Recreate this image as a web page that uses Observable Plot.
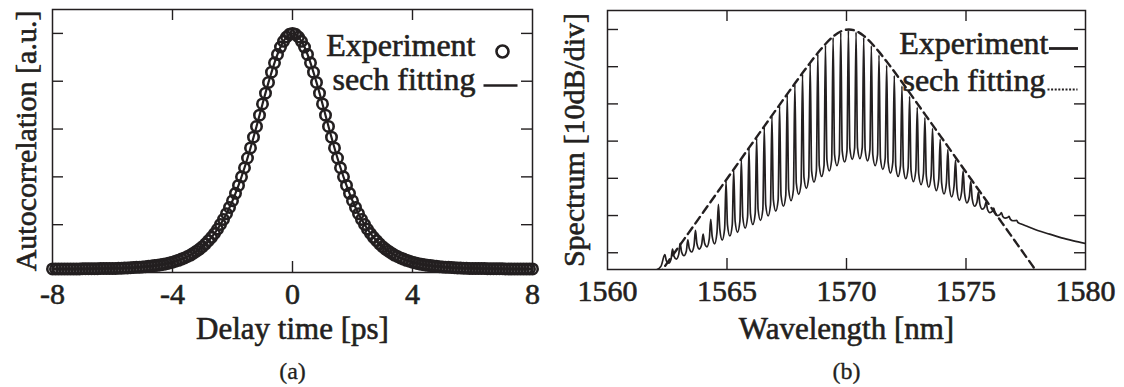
<!DOCTYPE html>
<html>
<head>
<meta charset="utf-8">
<script src="https://cdn.jsdelivr.net/npm/d3@7"></script>
<script src="https://cdn.jsdelivr.net/npm/@observablehq/plot@0.6"></script>
<style>
  html, body { margin: 0; padding: 0; background: #fff; }
  #wrap { position: relative; width: 1124px; height: 387px; overflow: hidden; background: #fff; }
  #wrap svg { position: absolute; top: 0; }
</style>
</head>
<body>
<div id="wrap"></div>
<script>
// ---------- Panel (a): autocorrelation ----------
const acDelay = [-8.0,-7.9,-7.8,-7.7,-7.6,-7.5,-7.4,-7.3,-7.2,-7.1,-7.0,-6.9,-6.8,-6.7,-6.6,-6.5,-6.4,-6.3,-6.2,-6.1,
  -6.0,-5.9,-5.8,-5.7,-5.6,-5.5,-5.4,-5.3,-5.2,-5.1,-5.0,-4.9,-4.8,-4.7,-4.6,-4.5,-4.4,-4.3,-4.2,-4.1,
  -4.0,-3.9,-3.8,-3.7,-3.6,-3.5,-3.4,-3.3,-3.2,-3.1,-3.0,-2.9,-2.8,-2.7,-2.6,-2.5,-2.4,-2.3,-2.2,-2.1,
  -2.0,-1.9,-1.8,-1.7,-1.6,-1.5,-1.4,-1.3,-1.2,-1.1,-1.0,-0.9,-0.8,-0.7,-0.6,-0.5,-0.4,-0.3,-0.2,-0.1,
  0.0,
  0.1,0.2,0.3,0.4,0.5,0.6,0.7,0.8,0.9,1.0,1.1,1.2,1.3,1.4,1.5,1.6,1.7,1.8,1.9,2.0,
  2.1,2.2,2.3,2.4,2.5,2.6,2.7,2.8,2.9,3.0,3.1,3.2,3.3,3.4,3.5,3.6,3.7,3.8,3.9,4.0,
  4.1,4.2,4.3,4.4,4.5,4.6,4.7,4.8,4.9,5.0,5.1,5.2,5.3,5.4,5.5,5.6,5.7,5.8,5.9,6.0,
  6.1,6.2,6.3,6.4,6.5,6.6,6.7,6.8,6.9,7.0,7.1,7.2,7.3,7.4,7.5,7.6,7.7,7.8,7.9,8.0];
const acValue = [0.015,0.015,0.015,0.015,0.015,0.015,0.015,0.015,0.015,0.015,0.016,0.016,0.016,0.016,0.016,0.016,0.017,0.017,0.017,0.017,
  0.017,0.017,0.018,0.018,0.019,0.019,0.020,0.021,0.022,0.022,0.023,0.024,0.026,0.027,0.029,0.030,0.032,0.034,0.037,0.040,
  0.043,0.047,0.051,0.056,0.061,0.067,0.073,0.081,0.089,0.098,0.108,0.120,0.133,0.147,0.163,0.181,0.201,0.222,0.246,0.272,
  0.300,0.331,0.364,0.400,0.438,0.479,0.521,0.566,0.611,0.658,0.705,0.750,0.795,0.838,0.877,0.912,0.943,0.967,0.985,0.996,
  1.000,
  0.996,0.985,0.967,0.943,0.912,0.877,0.838,0.795,0.750,0.705,0.658,0.611,0.566,0.521,0.479,0.438,0.400,0.364,0.331,0.300,
  0.272,0.246,0.222,0.201,0.181,0.163,0.147,0.133,0.120,0.108,0.098,0.089,0.081,0.073,0.067,0.061,0.056,0.051,0.047,0.043,
  0.040,0.037,0.034,0.032,0.030,0.029,0.027,0.026,0.024,0.023,0.022,0.022,0.021,0.020,0.019,0.019,0.018,0.018,0.017,0.017,
  0.017,0.017,0.017,0.017,0.016,0.016,0.016,0.016,0.016,0.016,0.015,0.015,0.015,0.015,0.015,0.015,0.015,0.015,0.015,0.015];
const acFitDelay = [-8,-7,-6,-5,-4.4,-4,-3.6,-3.2,-3.0,-2.8,-2.6,-2.4,-2.2,-2.0,-1.8,-1.6,-1.4,-1.2,-1.0,-0.8,-0.6,-0.4,-0.2,0,
  0.2,0.4,0.6,0.8,1.0,1.2,1.4,1.6,1.8,2.0,2.2,2.4,2.6,2.8,3.0,3.2,3.6,4,4.4,5,6,7,8];
const acFitValue = [0.015,0.016,0.017,0.023,0.032,0.043,0.061,0.089,0.108,0.133,0.163,0.201,0.246,0.300,0.364,0.438,0.521,0.611,0.705,0.795,0.877,0.943,0.985,1.000,
  0.985,0.943,0.877,0.795,0.705,0.611,0.521,0.438,0.364,0.300,0.246,0.201,0.163,0.133,0.108,0.089,0.061,0.043,0.032,0.023,0.017,0.016,0.015];
const acXLabels = [-8, -4, 0, 4, 8];
const acXInnerTicks = [-4, 0, 4];
const acYTicks = [0.2, 0.4, 0.6, 0.8, 1.0];

// ---------- Panel (b): spectrum ----------
const specStartNm = [1562.05, 1562.24];
const specStartDb = [-64.6, -63.6];
const specPeakNm = [1562.40,1562.72,1563.04,1563.36,1563.68,1564.00,1564.32,1564.64,1564.96,1565.28,1565.60,1565.92,1566.24,1566.56,1566.88,1567.20,
  1567.52,1567.84,1568.16,1568.48,1568.80,1569.12,1569.44,1569.76,1570.08,1570.40,1570.72,1571.04,1571.36,1571.68,1572.00,1572.32,
  1572.64,1572.96,1573.28,1573.60,1573.92,1574.24,1574.56,1574.88,1575.20,1575.52,1575.84,1576.16,1576.48,1576.80,1577.12];
const specPeakDb = [-60.5,-59.0,-57.5,-56.5,-54.0,-55.0,-51.0,-47.0,-40.8,-37.8,-35.0,-32.0,-29.2,-26.3,-23.3,-20.5,
  -17.6,-14.8,-12.0,-9.2,-6.6,-4.2,-2.2,-0.8,-0.3,-0.7,-2.2,-4.4,-6.9,-9.6,-12.4,-15.2,
  -18.0,-20.9,-23.7,-26.6,-29.5,-32.3,-35.2,-38.0,-40.9,-43.7,-46.4,-48.0,-49.2,-50.2,-51.3];
const specValleyNm = [1562.56,1562.88,1563.20,1563.52,1563.84,1564.16,1564.48,1564.80,1565.12,1565.44,1565.76,1566.08,1566.40,1566.72,1567.04,1567.36,
  1567.68,1568.00,1568.32,1568.64,1568.96,1569.28,1569.60,1569.92,1570.24,1570.56,1570.88,1571.20,1571.52,1571.84,1572.16,1572.48,
  1572.80,1573.12,1573.44,1573.76,1574.08,1574.40,1574.72,1575.04,1575.36,1575.68,1576.00,1576.32,1576.64,1576.96,1577.28];
const specValleyDb = [-62.8,-61.7,-60.8,-59.8,-59.0,-58.4,-57.6,-56.6,-55.5,-54.5,-53.4,-52.4,-51.3,-50.1,-48.8,-47.5,
  -46.0,-44.3,-42.7,-41.0,-39.5,-38.0,-36.6,-35.6,-34.9,-34.7,-35.3,-36.6,-37.6,-38.6,-39.5,-40.1,
  -40.9,-41.7,-42.4,-43.3,-44.2,-45.0,-45.9,-46.6,-47.5,-48.3,-49.2,-50.0,-50.7,-51.4,-52.2];
const specTailNm = [1577.6, 1578.0, 1578.5, 1579.0, 1579.5, 1580.0];
const specTailDb = [-53.0, -54.0, -55.0, -56.0, -56.8, -57.5];
const sechNm = [1562.10,1562.42,1562.74,1563.06,1563.38,1563.70,1564.02,1564.34,1564.66,1564.98,1565.30,1565.62,1565.94,1566.26,1566.58,1566.90,
  1567.22,1567.54,1567.86,1568.18,1568.50,1568.82,1569.14,1569.46,1569.78,1570.10,1570.42,1570.74,1571.06,1571.38,1571.70,1572.02,
  1572.34,1572.66,1572.98,1573.30,1573.62,1573.94,1574.26,1574.58,1574.90,1575.22,1575.54,1575.86,1576.18,1576.50,1576.82,1577.14,
  1577.46,1577.78,1578.10];
const sechDb = [-66.36,-63.46,-60.57,-57.67,-54.78,-51.89,-48.99,-46.09,-43.20,-40.31,-37.41,-34.52,-31.62,-28.73,-25.84,-22.94,
  -20.06,-17.18,-14.32,-11.51,-8.77,-6.15,-3.77,-1.80,-0.47,0,-0.47,-1.80,-3.77,-6.15,-8.77,-11.51,
  -14.32,-17.18,-20.06,-22.94,-25.84,-28.73,-31.62,-34.52,-37.41,-40.31,-43.20,-46.09,-48.99,-51.89,-54.78,-57.67,
  -60.57,-63.46,-66.36];
const spXLabels = [1560, 1565, 1570, 1575, 1580];
const spXInnerTicks = [1565, 1570, 1575];
const spYTicks = [-60, -50, -40, -30, -20, -10, 0];

// ---------- shared style ----------
const FONT = "'Liberation Serif', 'Times New Roman', Times, serif";
const ink = "#231f20";
const H = 387;
const style = {fontFamily: FONT, fontSize: "30px", color: ink, background: "transparent", overflow: "visible"};
const hLine = {draw(ctx, size) { const L = Math.sqrt(size / Math.PI); ctx.moveTo(-L, 0); ctx.lineTo(L, 0); }};
const txt = (extra) => ({text: d => d, fill: ink, stroke: ink, strokeWidth: 0.6, fontFamily: FONT, ...extra});
const axisText = {tickSize: 0, tickPadding: 10, tickFormat: d => String(d), label: null, fontSize: 30, fontFamily: FONT,
  fill: ink, textStroke: ink, textStrokeWidth: 0.6};

// ---------- build panel (a) ----------
const A = {w: 562, left: 52, right: 30, top: 9, bottom: 115};
const aInnerW = A.w - A.left - A.right, aInnerH = H - A.top - A.bottom;
const acRows = acDelay.map((t, i) => ({t, v: acValue[i]}));
const acFitRows = acFitDelay.map((t, i) => ({t, v: acFitValue[i]}));

const plotA = Plot.plot({
  width: A.w, height: H,
  marginLeft: A.left, marginRight: A.right, marginTop: A.top, marginBottom: A.bottom,
  style,
  x: {domain: [-8, 8], label: null},
  y: {domain: [0, 1.1], axis: null, label: null},
  marks: [
    Plot.tickX(acXInnerTicks, {x: d => d, insetTop: aInnerH - 11, stroke: ink, strokeWidth: 1.4}),
    Plot.tickX(acXInnerTicks, {x: d => d, insetBottom: aInnerH - 11, stroke: ink, strokeWidth: 1.4}),
    Plot.tickY(acYTicks, {y: d => d, insetRight: aInnerW - 11, stroke: ink, strokeWidth: 1.4}),
    Plot.tickY(acYTicks, {y: d => d, insetLeft: aInnerW - 11, stroke: ink, strokeWidth: 1.4}),
    Plot.axisX(acXLabels, {anchor: "bottom", ...axisText}),
    Plot.line(acFitRows, {x: "t", y: "v", stroke: ink, strokeWidth: 2.2, curve: "monotone-x"}),
    Plot.dot(acRows, {x: "t", y: "v", r: 5.2, stroke: ink, strokeWidth: 2.6, fill: "none"}),
    Plot.frame({stroke: ink, strokeWidth: 1.5}),
    Plot.text(["Delay time [ps]"], txt({frameAnchor: "bottom", dy: 66, lineAnchor: "bottom", fontSize: 31})),
    Plot.text(["(a)"], txt({frameAnchor: "bottom", dy: 106, lineAnchor: "bottom", fontSize: 24, strokeWidth: 0.3})),
    Plot.text(["Autocorrelation [a.u.]"], txt({frameAnchor: "left", dx: -26, rotate: -90, textAnchor: "middle", fontSize: 30})),
    Plot.text(["Experiment"], txt({frameAnchor: "top-right", dx: -57, dy: 46, textAnchor: "end", lineAnchor: "bottom", fontSize: 32})),
    Plot.dot([0], {frameAnchor: "top-right", dx: -30, dy: 42, r: 6, stroke: ink, strokeWidth: 2.6, fill: "none"}),
    Plot.text(["sech fitting"], txt({frameAnchor: "top-right", dx: -57, dy: 80, textAnchor: "end", lineAnchor: "bottom", fontSize: 32})),
    Plot.dot([0], {frameAnchor: "top-right", dx: -32, dy: 76, r: 17, symbol: hLine, stroke: ink, strokeWidth: 2.6, fill: "none"})
  ]
});
plotA.style.left = "0px";

// ---------- build panel (b) ----------
const B = {w: 562, left: 45, right: 39, top: 10, bottom: 118};
const bInnerW = B.w - B.left - B.right, bInnerH = H - B.top - B.bottom;
// line shape of each comb period: a sharp spike and a rounded valley
const footGap = 0.06, footRise = 3;
const specRows = [];
specStartNm.forEach((x, i) => specRows.push({x, y: specStartDb[i]}));
specPeakNm.forEach((x, i) => {
  const p = specPeakDb[i], v = specValleyDb[i];
  specRows.push({x, y: p});
  specRows.push({x: x + footGap, y: v + Math.min(footRise, 0.3 * (p - v))});
  specRows.push({x: specValleyNm[i], y: v});
  if (i + 1 < specPeakNm.length) {
    const pn = specPeakDb[i + 1];
    specRows.push({x: specPeakNm[i + 1] - footGap, y: v + Math.min(footRise, 0.3 * (pn - v))});
  }
});
specTailNm.forEach((x, i) => specRows.push({x, y: specTailDb[i]}));
const sechRows = sechNm.map((x, i) => ({x, y: sechDb[i]}));

const plotB = Plot.plot({
  width: B.w, height: H,
  marginLeft: B.left, marginRight: B.right, marginTop: B.top, marginBottom: B.bottom,
  style,
  x: {domain: [1560, 1580], label: null},
  y: {domain: [-64.5, 5.1], axis: null, label: null},
  marks: [
    Plot.tickX(spXInnerTicks, {x: d => d, insetTop: bInnerH - 11, stroke: ink, strokeWidth: 1.4}),
    Plot.tickX(spXInnerTicks, {x: d => d, insetBottom: bInnerH - 11, stroke: ink, strokeWidth: 1.4}),
    Plot.tickY(spYTicks, {y: d => d, insetRight: bInnerW - 11, stroke: ink, strokeWidth: 1.4}),
    Plot.tickY(spYTicks, {y: d => d, insetLeft: bInnerW - 11, stroke: ink, strokeWidth: 1.4}),
    Plot.axisX(spXLabels, {anchor: "bottom", ...axisText}),
    Plot.line(specRows, {x: "x", y: "y", stroke: ink, strokeWidth: 1.7, curve: "monotone-x", clip: true}),
    Plot.line(sechRows, {x: "x", y: "y", stroke: ink, strokeWidth: 2.4, strokeDasharray: "8,5", curve: "monotone-x", clip: true}),
    Plot.frame({stroke: ink, strokeWidth: 1.5}),
    Plot.text(["Wavelength [nm]"], txt({frameAnchor: "bottom", dy: 69, lineAnchor: "bottom", fontSize: 31})),
    Plot.text(["(b)"], txt({frameAnchor: "bottom", dy: 109, lineAnchor: "bottom", fontSize: 24, strokeWidth: 0.3})),
    Plot.text(["Spectrum [10dB/div]"], txt({frameAnchor: "left", dx: -33, rotate: -90, textAnchor: "middle", fontSize: 30})),
    Plot.text(["Experiment"], txt({frameAnchor: "top-right", dx: -37, dy: 43, textAnchor: "end", lineAnchor: "bottom", fontSize: 32})),
    Plot.dot([0], {frameAnchor: "top-right", dx: -22, dy: 38, r: 14.5, symbol: hLine, stroke: ink, strokeWidth: 2.8, fill: "none"}),
    Plot.text(["sech fitting"], txt({frameAnchor: "top-right", dx: -40, dy: 80, textAnchor: "end", lineAnchor: "bottom", fontSize: 32})),
    Plot.dot([0], {frameAnchor: "top-right", dx: -23, dy: 79, r: 15, symbol: hLine, stroke: ink, strokeWidth: 2, strokeDasharray: "2,1.6", fill: "none"})
  ]
});
plotB.style.left = "562px";

const wrap = document.getElementById("wrap");
wrap.appendChild(plotA);
wrap.appendChild(plotB);
</script>
</body>
</html>
